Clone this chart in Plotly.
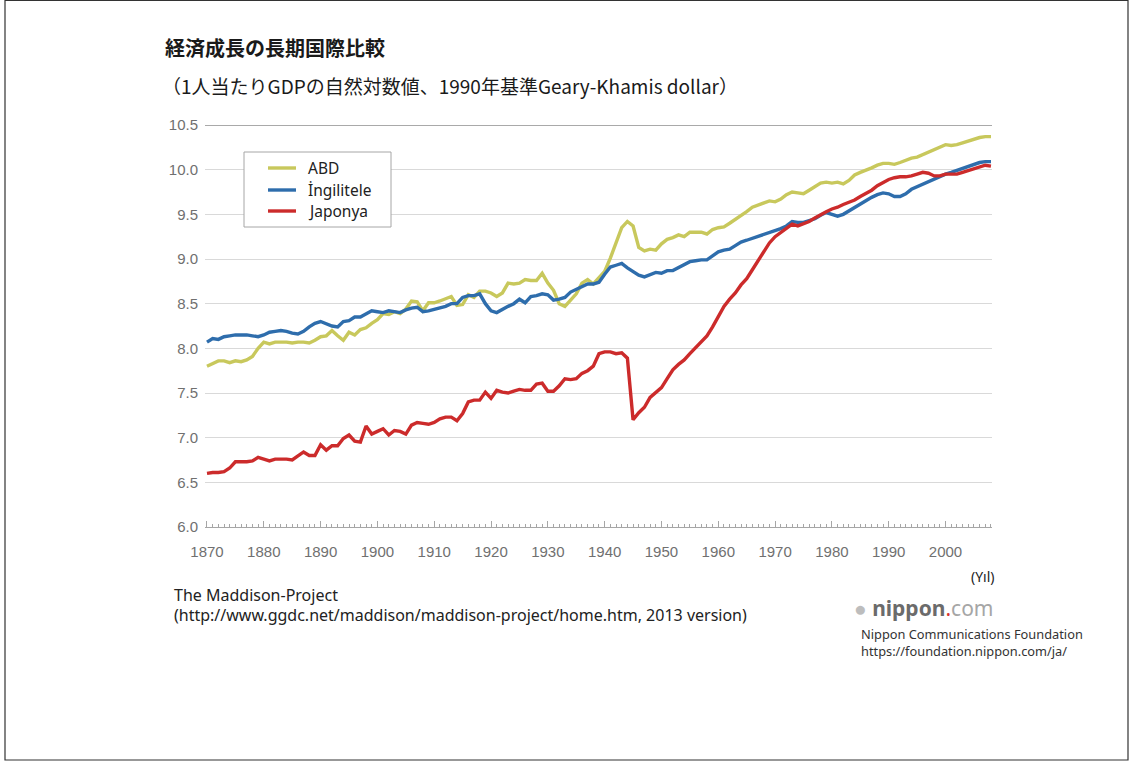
import plotly.graph_objects as go

# ---------------- data ----------------
years = list(range(1870, 2009))

abd = [
    7.80, 7.83, 7.86, 7.86, 7.84, 7.86, 7.85, 7.87, 7.91, 8.00,   # 1870-1879
    8.07, 8.05, 8.07, 8.07, 8.07, 8.06, 8.07, 8.07, 8.06, 8.09,   # 1880-1889
    8.13, 8.14, 8.20, 8.14, 8.09, 8.18, 8.15, 8.21, 8.23, 8.28,   # 1890-1899
    8.32, 8.39, 8.38, 8.41, 8.39, 8.44, 8.53, 8.52, 8.42, 8.51,   # 1900-1909
    8.51, 8.53, 8.56, 8.58, 8.48, 8.49, 8.60, 8.57, 8.64, 8.64,   # 1910-1919
    8.62, 8.58, 8.62, 8.73, 8.72, 8.73, 8.77, 8.76, 8.76, 8.84,   # 1920-1929
    8.73, 8.65, 8.50, 8.47, 8.54, 8.61, 8.73, 8.77, 8.72, 8.79,   # 1930-1939
    8.86, 9.01, 9.18, 9.35, 9.42, 9.37, 9.13, 9.09, 9.11, 9.10,   # 1940-1949
    9.17, 9.22, 9.24, 9.27, 9.25, 9.30, 9.30, 9.30, 9.28, 9.33,   # 1950-1959
    9.35, 9.36, 9.40, 9.44, 9.49, 9.53, 9.58, 9.60, 9.63, 9.65,   # 1960-1969
    9.64, 9.67, 9.72, 9.75, 9.74, 9.73, 9.77, 9.81, 9.85, 9.86,   # 1970-1979
    9.85, 9.86, 9.84, 9.88, 9.94, 9.97, 9.99, 10.02, 10.05, 10.07,  # 1980-1989
    10.07, 10.06, 10.08, 10.10, 10.13, 10.14, 10.17, 10.20, 10.23, 10.26,  # 1990-1999
    10.28, 10.27, 10.28, 10.30, 10.32, 10.34, 10.36, 10.37, 10.37,  # 2000-2008
]

ingiltere = [
    8.07, 8.11, 8.10, 8.13, 8.14, 8.15, 8.15, 8.15, 8.14, 8.13,   # 1870-1879
    8.15, 8.18, 8.19, 8.20, 8.19, 8.17, 8.16, 8.19, 8.24, 8.28,   # 1880-1889
    8.30, 8.28, 8.25, 8.24, 8.30, 8.31, 8.35, 8.35, 8.39, 8.42,   # 1890-1899
    8.41, 8.40, 8.42, 8.41, 8.40, 8.43, 8.45, 8.46, 8.41, 8.42,   # 1900-1909
    8.44, 8.46, 8.47, 8.50, 8.50, 8.57, 8.59, 8.59, 8.61, 8.50,   # 1910-1919
    8.42, 8.40, 8.44, 8.47, 8.50, 8.55, 8.51, 8.58, 8.59, 8.61,   # 1920-1929
    8.60, 8.54, 8.55, 8.57, 8.63, 8.66, 8.70, 8.72, 8.72, 8.74,   # 1930-1939
    8.83, 8.91, 8.93, 8.95, 8.90, 8.86, 8.82, 8.80, 8.82, 8.85,   # 1940-1949
    8.84, 8.87, 8.87, 8.90, 8.94, 8.97, 8.98, 8.99, 8.99, 9.03,   # 1950-1959
    9.08, 9.10, 9.11, 9.15, 9.19, 9.21, 9.23, 9.25, 9.28, 9.30,   # 1960-1969
    9.32, 9.34, 9.37, 9.42, 9.41, 9.41, 9.43, 9.45, 9.49, 9.52,   # 1970-1979
    9.50, 9.48, 9.50, 9.54, 9.58, 9.61, 9.65, 9.69, 9.72, 9.74,   # 1980-1989
    9.73, 9.70, 9.70, 9.73, 9.78, 9.81, 9.84, 9.87, 9.90, 9.92,   # 1990-1999
    9.95, 9.97, 9.99, 10.02, 10.04, 10.06, 10.08, 10.09, 10.09,   # 2000-2008
]

japonya = [
    6.60, 6.61, 6.61, 6.62, 6.66, 6.73, 6.73, 6.73, 6.74, 6.78,   # 1870-1879
    6.76, 6.74, 6.76, 6.76, 6.76, 6.75, 6.80, 6.84, 6.80, 6.80,   # 1880-1889
    6.92, 6.86, 6.91, 6.91, 6.99, 7.03, 6.96, 6.95, 7.13, 7.04,   # 1890-1899
    7.07, 7.10, 7.03, 7.08, 7.07, 7.04, 7.14, 7.17, 7.16, 7.15,   # 1900-1909
    7.17, 7.21, 7.23, 7.23, 7.19, 7.27, 7.40, 7.42, 7.42, 7.51,   # 1910-1919
    7.44, 7.53, 7.51, 7.50, 7.52, 7.54, 7.53, 7.53, 7.60, 7.61,   # 1920-1929
    7.52, 7.52, 7.58, 7.66, 7.65, 7.66, 7.72, 7.75, 7.80, 7.94,   # 1930-1939
    7.96, 7.96, 7.94, 7.95, 7.89, 7.20, 7.28, 7.34, 7.45, 7.50,   # 1940-1949
    7.56, 7.66, 7.76, 7.82, 7.87, 7.94, 8.01, 8.08, 8.14, 8.24,   # 1950-1959
    8.36, 8.47, 8.55, 8.62, 8.71, 8.78, 8.88, 8.98, 9.09, 9.18,   # 1960-1969
    9.25, 9.30, 9.35, 9.39, 9.37, 9.39, 9.42, 9.46, 9.50, 9.53,   # 1970-1979
    9.56, 9.58, 9.61, 9.63, 9.66, 9.70, 9.73, 9.77, 9.82, 9.86,   # 1980-1989
    9.89, 9.91, 9.92, 9.92, 9.93, 9.95, 9.97, 9.96, 9.93, 9.93,   # 1990-1999
    9.95, 9.95, 9.95, 9.97, 9.99, 10.01, 10.03, 10.05, 10.04,     # 2000-2008
]

series_names = ["ABD", "İngilitele", "Japonya"]
series_colors = ["#c8c85c", "#2e6dac", "#cc2b2b"]

y_ticks = [6.0, 6.5, 7.0, 7.5, 8.0, 8.5, 9.0, 9.5, 10.0, 10.5]
x_ticks = [1870, 1880, 1890, 1900, 1910, 1920, 1930, 1940, 1950, 1960, 1970, 1980, 1990, 2000]

title_text = "経済成長の長期国際比較"
subtitle_text = "（1人当たりGDPの自然対数値、1990年基準Geary-Khamis dollar）"
source_1 = "The Maddison-Project"
source_2 = "(http://www.ggdc.net/maddison/maddison-project/home.htm, 2013 version)"
unit_text = "(Yıl)"
org_1 = "Nippon Communications Foundation"
org_2 = "https://foundation.nippon.com/ja/"

# ---------------- layout geometry (pixels) ----------------
W_FIG, H_FIG = 1132, 762
L, R, T, B = 205, 992, 125, 527
PW, PH = R - L, B - T


def px(x):
    return (x - L) / PW


def py(y):
    return (B - y) / PH


fig = go.Figure()
for name, vals, col in zip(series_names, [abd, ingiltere, japonya], series_colors):
    fig.add_trace(go.Scatter(
        x=years, y=vals, name=name, mode="lines",
        line=dict(color=col, width=3.4), showlegend=False,
    ))

jp_font = "Noto Sans CJK JP, Noto Sans, sans-serif"
lat_font = "Noto Sans, Liberation Sans, Arial, sans-serif"
tick_font = dict(family="Liberation Sans, Arial, sans-serif", size=15, color="#707070")

fig.update_layout(
    width=W_FIG, height=H_FIG,
    margin=dict(l=L, r=W_FIG - R, t=T, b=H_FIG - B, pad=0),
    paper_bgcolor="white", plot_bgcolor="white",
    showlegend=False,
    xaxis=dict(
        range=[1869.65, 2008.18],
        tickmode="array", tickvals=x_ticks, ticktext=[str(v) for v in x_ticks],
        ticks="inside", ticklen=6, tickcolor="#a6a6a6", tickwidth=1,
        showline=True, linecolor="#a6a6a6", linewidth=1,
        showgrid=False, zeroline=False,
        tickfont=tick_font, ticklabelstandoff=11,
        minor=dict(tickmode="linear", tick0=1870, dtick=1, ticks="inside",
                   ticklen=3, tickcolor="#a6a6a6", showgrid=False),
    ),
    yaxis=dict(
        range=[6.0, 10.5],
        tickmode="array", tickvals=y_ticks, ticktext=[f"{v:.1f}" for v in y_ticks],
        showgrid=True, gridcolor="#d9d9d9", gridwidth=1,
        zeroline=False, showline=False, ticks="",
        tickfont=tick_font, ticklabelstandoff=6,
    ),
)

# darker top gridline
fig.add_shape(type="line", xref="paper", yref="y", x0=0, x1=1, y0=10.5, y1=10.5,
              line=dict(color="#8c8c8c", width=1.5), layer="below")

# outer frame of the graphic
fig.add_shape(type="rect", xref="paper", yref="paper",
              x0=px(5), x1=px(1128), y0=py(760), y1=py(0.5),
              line=dict(color="#333333", width=1.2))

# legend box (drawn to match the original's placement)
fig.add_shape(type="rect", xref="paper", yref="paper",
              x0=px(244), x1=px(391), y0=py(227), y1=py(152),
              line=dict(color="#a6a6a6", width=1), fillcolor="white", layer="above")
legend_rows = [168, 190, 211]
ann = []
for name, col, yy in zip(series_names, series_colors, legend_rows):
    fig.add_shape(type="line", xref="paper", yref="paper",
                  x0=px(268), x1=px(296), y0=py(yy), y1=py(yy),
                  line=dict(color=col, width=3.4), layer="above")
    ann.append(dict(text=name, x=px(306), y=py(yy),
                    font=dict(family=lat_font, size=15.5, color="#222222")))

ann.append(dict(text="<b>" + title_text + "</b>", x=px(163), y=py(48),
                font=dict(family=jp_font, size=20, color="#1a1a1a")))
ann.append(dict(text=subtitle_text, x=px(160), y=py(85),
                font=dict(family=jp_font, size=19, color="#1a1a1a")))
ann.append(dict(text=source_1, x=px(172), y=py(595),
                font=dict(family=lat_font, size=16, color="#222222")))
ann.append(dict(text=source_2, x=px(172), y=py(615),
                font=dict(family=lat_font, size=16, color="#222222")))
ann.append(dict(text=unit_text, x=px(969), y=py(576),
                font=dict(family=lat_font, size=14, color="#222222")))
ann.append(dict(text="<span style='color:#bdbdbd'>●</span> <b><span style='color:#6b6b6b'>nippon</span></b>"
                     "<span style='color:#d9342b'>.</span><span style='color:#a6a6a6'>com</span>",
                x=px(852), y=py(608),
                font=dict(family=lat_font, size=21, color="#a6a6a6")))
ann.append(dict(text=org_1, x=px(859), y=py(634),
                font=dict(family=lat_font, size=12.8, color="#333333")))
ann.append(dict(text=org_2, x=px(859), y=py(651),
                font=dict(family=lat_font, size=12.8, color="#333333")))

for a in ann:
    a.update(xref="paper", yref="paper", xanchor="left", yanchor="middle",
             showarrow=False, align="left")
fig.update_layout(annotations=ann)

fig.write_html("out.html", config={"displayModeBar": False},
               post_script="document.body.style.margin='0px';")
